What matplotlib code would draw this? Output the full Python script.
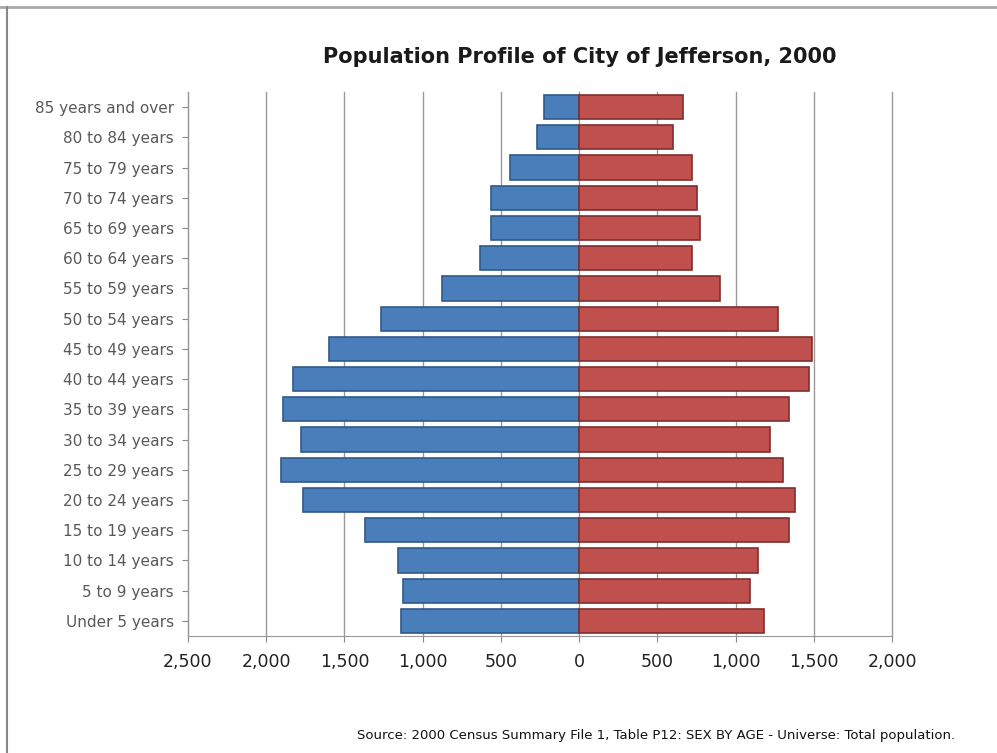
import matplotlib.pyplot as plt
from matplotlib.lines import Line2D
from matplotlib.ticker import FuncFormatter

ages = ["Under 5 years", "5 to 9 years", "10 to 14 years", "15 to 19 years",
        "20 to 24 years", "25 to 29 years", "30 to 34 years", "35 to 39 years",
        "40 to 44 years", "45 to 49 years", "50 to 54 years", "55 to 59 years",
        "60 to 64 years", "65 to 69 years", "70 to 74 years", "75 to 79 years",
        "80 to 84 years", "85 years and over"]
male = [1138, 1125, 1157, 1368, 1765, 1905, 1777, 1893, 1829, 1598,
        1266, 876, 633, 563, 563, 441, 269, 224]
female = [1183, 1093, 1145, 1343, 1381, 1304, 1221, 1343, 1471, 1490,
          1272, 901, 722, 774, 754, 722, 601, 665]

fig = plt.figure(figsize=(9.97, 7.53), dpi=100)
ax = fig.add_axes([188/997, 1 - 636/753, (892-188)/997, (636-92)/753])

y = list(range(len(ages)))
ax.barh(y, [-m for m in male], height=0.8, color='#4A7EBB', edgecolor='#2F5A8A', linewidth=1.2, zorder=3)
ax.barh(y, female, height=0.8, color='#C0504D', edgecolor='#7F2F2D', linewidth=1.2, zorder=3)

ax.set_xlim(-2500, 2000)
ax.set_ylim(-0.5, len(ages) - 0.5)
ax.set_xticks(range(-2500, 2001, 500))
ax.xaxis.set_major_formatter(FuncFormatter(lambda v, p: f"{abs(int(v)):,}"))
ax.set_yticks(y)
ax.set_yticklabels(ages, fontsize=11, color='#595959')
ax.tick_params(axis='x', labelsize=12.5, colors='#222222', length=4, color='#888888', pad=8)
ax.tick_params(axis='y', length=4, color='#888888', pad=6)
ax.grid(axis='x', color='#999999', linewidth=1, zorder=0)
for gl in ax.get_xgridlines():
    gl.set_clip_on(False)
for s in ['top', 'right']:
    ax.spines[s].set_visible(False)
for s in ['left', 'bottom']:
    ax.spines[s].set_color('#999999')

fig.text(580/997, 1 - 57/753, "Population Profile of City of Jefferson, 2000",
         ha='center', va='center', fontsize=15, fontweight='bold', color='#1a1a1a')
fig.text(955/997, 1 - 735/753,
         "Source: 2000 Census Summary File 1, Table P12: SEX BY AGE - Universe: Total population.",
         ha='right', va='center', fontsize=9.5, color='#111111')

fig.add_artist(Line2D([0, 1], [1 - 7/753, 1 - 7/753], color='#aaaaaa', linewidth=2))
fig.add_artist(Line2D([7/997, 7/997], [0, 1 - 7/753], color='#888888', linewidth=1.5))

fig.savefig("out.png", dpi=100)
